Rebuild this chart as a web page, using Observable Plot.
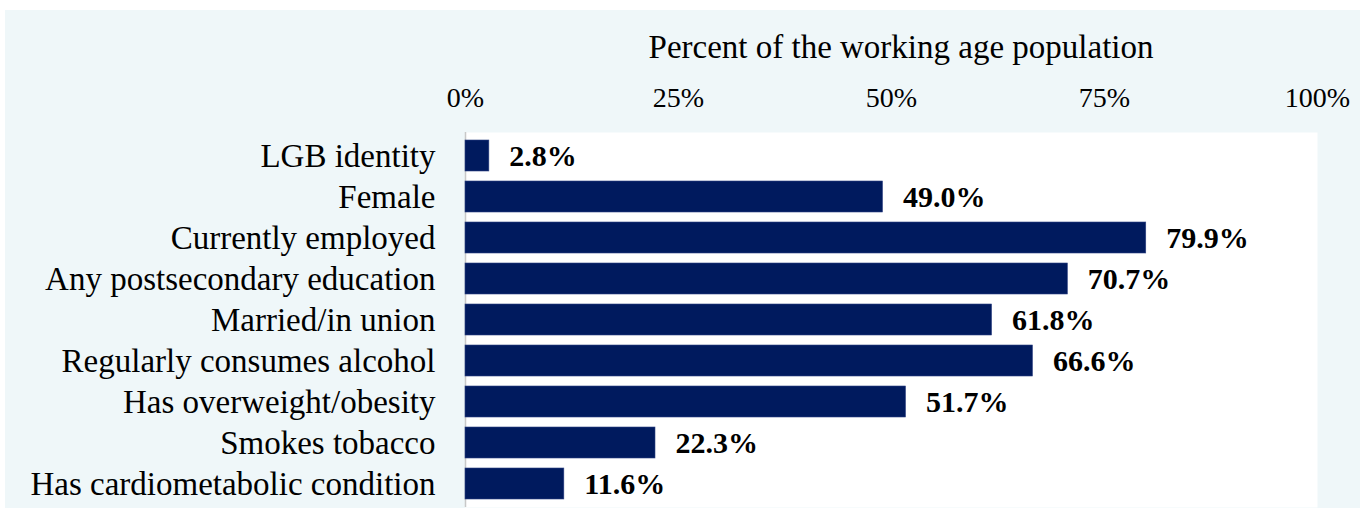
<!DOCTYPE html>
<html><head><meta charset="utf-8">
<script src="https://cdn.jsdelivr.net/npm/d3@7"></script>
<script src="https://cdn.jsdelivr.net/npm/@observablehq/plot@0.6"></script>
<style>
html,body{margin:0;padding:0;background:#fff;}
#wrap{position:relative;width:1360px;height:513px;overflow:hidden;}
#bg{position:absolute;left:5px;top:10px;right:0;bottom:5px;background:#eff7f9;}
#chart{position:absolute;left:0;top:0;}
#chart svg, #chart svg text{font-family:"Liberation Serif", Tinos, "Times New Roman", Times, serif !important;}
</style></head><body><div id="wrap"><div id="bg"></div><div id="chart"></div></div>
<script>
const categories = [
  "LGB identity",
  "Female",
  "Currently employed",
  "Any postsecondary education",
  "Married/in union",
  "Regularly consumes alcohol",
  "Has overweight/obesity",
  "Smokes tobacco",
  "Has cardiometabolic condition"
];
const values = [2.8, 49.0, 79.9, 70.7, 61.8, 66.6, 51.7, 22.3, 11.6];
const xTicks = [0, 25, 50, 75, 100];
const xTitle = "Percent of the working age population";

const data = categories.map((c, i) => ({category: c, value: values[i]}));

const plot = Plot.plot({
  width: 1360,
  height: 513,
  marginLeft: 465,
  marginRight: 43,
  marginTop: 132,
  marginBottom: 6,
  style: {
    background: "transparent",
    fontSize: "33px",
    color: "#000"
  },
  x: {domain: [0, 100]},
  y: {domain: categories, paddingInner: 0.25, paddingOuter: 0.1},
  marks: [
    Plot.frame({fill: "white", stroke: null}),
    Plot.ruleX([0], {stroke: "#c8c8c8", strokeWidth: 1.5}),
    Plot.barX(data, {x: "value", y: "category", fill: "#001a5e", stroke: "#2d4283", strokeWidth: 0.6}),
    Plot.text(data, {x: "value", y: "category", text: d => d.value.toFixed(1) + "%", textAnchor: "start", dx: 20, fontWeight: "bold", fontSize: 30, fill: "#000"}),
    Plot.axisX({anchor: "top", ticks: xTicks, tickFormat: d => d + "%", tickSize: 0, tickPadding: 26, fontSize: 28, label: null}),
    Plot.axisY({tickSize: 0, tickPadding: 30, fontSize: 33, label: null}),
    Plot.text([xTitle], {frameAnchor: "top", text: d => d, dy: -75, dx: 9.5, lineAnchor: "bottom", fontSize: 33})
  ]
});
document.getElementById("chart").appendChild(plot);
</script>
</body></html>
